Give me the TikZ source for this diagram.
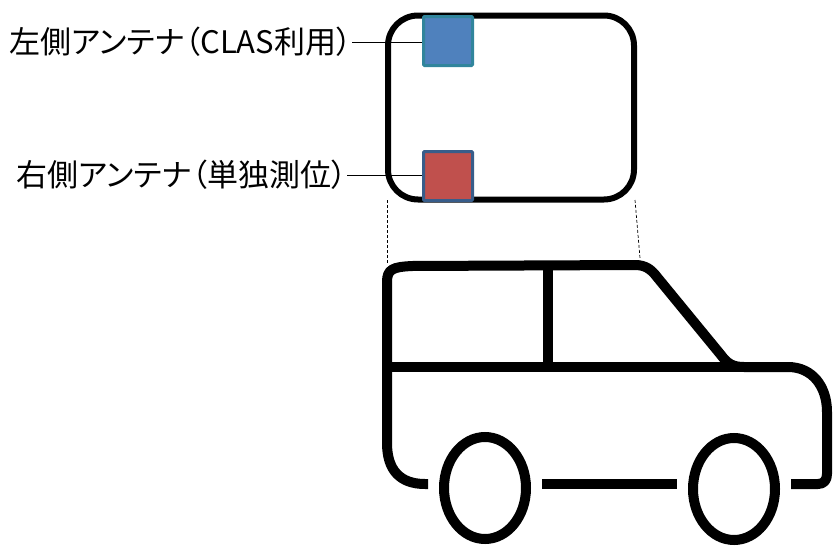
\documentclass[tikz,border=0pt]{standalone}
\usepackage{fontspec}
\usetikzlibrary{shapes.geometric}
\newfontfamily\jpfont[RawFeature=+palt]{Noto Sans CJK JP}
\definecolor{antblue}{HTML}{4F81BD}
\definecolor{antteal}{HTML}{31859C}
\definecolor{antred}{HTML}{C0504D}
\definecolor{antnavy}{HTML}{385D8A}
\begin{document}
\begin{tikzpicture}[x=1pt,y=-1pt,
  roofbox/.style={draw=black,line width=6pt,rounded corners=30pt,minimum width=246pt,minimum height=184pt,inner sep=0pt},
  antenna/.style={line width=3pt,minimum size=49pt,inner sep=0pt,rounded corners=1pt},
  label/.style={font=\jpfont\fontsize{31}{36}\selectfont,inner sep=0pt,anchor=east},
  leader/.style={line width=1pt},
  guide/.style={line width=0.7pt,dash pattern=on 3pt off 2pt},
  carline/.style={line width=10pt,line join=round},
  wheel/.style={draw,line width=10pt,ellipse,minimum width=82pt,minimum height=102pt,inner sep=0pt}]
\useasboundingbox (0,0) rectangle (833,546);

% top view of the roof with both antennas
\node[roofbox] (roof) at (511,107.5) {};
\node[antenna,draw=antteal,fill=antblue] (left) at (448,41) {};
\node[antenna,draw=antnavy,fill=antred] (right) at (448,176) {};

% antenna labels
\node[label] (ltext) at (352,42) {左側アンテナ（CLAS利用）};
\node[label] (rtext) at (347,175) {右側アンテナ（単独測位）};
\draw[leader] (ltext.east) -- (left.west |- ltext.east);
\draw[leader] (rtext.east) -- (right.west |- rtext.east);

% projection guides from the roof down to the car
\coordinate (rbl) at (387,200);
\coordinate (rbr) at (635,200);
\coordinate (cbl) at (387,263);
\coordinate (cbr) at (640,258);
\draw[guide] (rbl) -- (cbl);
\draw[guide] (rbr) -- (cbr);

% car body
\draw[carline] (428,484) -- (425,484)
  .. controls (400,484) and (387,470) .. (387,443)
  -- (387,282)
  .. controls (387,269) and (393,267) .. (412,266)
  -- (635,265)
  .. controls (645,265) and (651,269) .. (657,277)
  -- (721,355)
  .. controls (727,363) and (732,367) .. (744,367)
  -- (788,367)
  .. controls (812,367) and (827,386) .. (827,412)
  -- (827,474)
  .. controls (827,480) and (824,484) .. (818,484)
  -- (791,484);
\draw[carline] (542,484) -- (677,484);
\draw[carline] (387,367) -- (744,367);
\draw[carline] (548,266) -- (548,367);

% wheels
\node[wheel] (rearwheel) at (485,488) {};
\node[wheel] (frontwheel) at (734,489) {};
\end{tikzpicture}
\end{document}
